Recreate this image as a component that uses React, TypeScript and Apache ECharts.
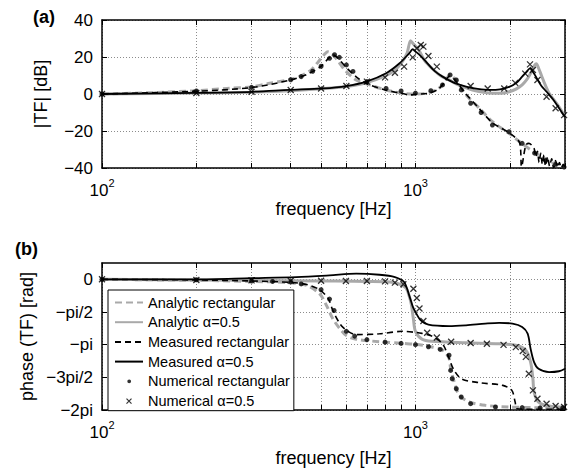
import React, { useEffect, useRef } from 'react';
import * as echarts from 'echarts';

const FONT = '"Liberation Sans", Arial, Helvetica, sans-serif';
const PI = Math.PI;

// ---- axes ----
const freqMax = 3000;
const freqGridHz = [100, 200, 300, 400, 500, 600, 700, 800, 900, 1000, 2000, 3000];
const freqLabelExp = [2, 3];
const magMin = -40;
const magMax = 40;
const magStep = 20;
const phaseTickValues = [-2 * PI, -1.5 * PI, -PI, -0.5 * PI, 0];
const phaseTickLabels = ['−2pi', '−3pi/2', '−pi', '−pi/2', '0'];

const names = [
  'Analytic rectangular',
  'Analytic α=0.5',
  'Measured rectangular',
  'Measured α=0.5',
  'Numerical rectangular',
  'Numerical α=0.5',
];

// ---- (a) magnitude [dB] ----
const magAnaRectF = [100,150,200,250,300,343,400,440,465,485,500,515,525,540,558,595,647,715,806,910,1000,1060,1128,1180,1220,1260,1290,1320,1365,1450,1600,1760,1990,2150,2370,2600,2800,3000];
const magAnaRectDb = [0,0.8,1.8,3.0,3.8,5.8,7.9,10.5,13,16.5,19.3,21.8,22.8,21.8,19.3,13,7.6,4.9,2.2,0.4,0,0.2,1.2,2.8,4.9,8.5,10.5,9,6.7,-0.5,-7.7,-15,-21.3,-25.8,-31,-35,-38,-40];

const magAnaAlphaF = [100,200,300,400,500,600,700,800,860,900,940,965,985,1025,1070,1128,1200,1280,1400,1520,1650,1760,1880,1990,2100,2190,2280,2330,2400,2430,2470,2520,2600,2670,2870,3000];
const magAnaAlphaDb = [0,0.5,1.0,1.8,2.8,4,6.2,9.8,13,16.5,22,28.8,27,23.8,18,13.9,10,7.6,4.2,2.2,0.9,0.4,0.4,1.2,2.8,4.9,8.5,11.2,15.5,16.3,14,10.3,4.5,0.4,-6.9,-12.3];

const magMeasRectF = [100,200,300,400,450,500,530,548,565,600,650,700,800,900,960,1000,1100,1180,1240,1280,1310,1360,1450,1600,1760,1990,2150,2180,2250,2300,2390,2420,2450,2480,2510,2540,2570,2600,2640,2680,2720,2760,2800,2840,2880,2920,2960,3000];
const magMeasRectDb = [0,1.5,3.5,7.6,10.5,15,19.5,21,19.5,14.5,9,5.5,2.2,0.4,-0.5,-0.2,0.4,2.5,6.5,9.5,9,6,0,-8,-15.5,-21,-26.5,-39.3,-27.6,-26.7,-29.4,-34,-31,-37,-32,-38,-33,-39,-34,-39,-35,-40,-36,-39.5,-37,-40,-38,-39.5];

const magMeasAlphaF = [100,200,300,396,507,602,697,806,890,955,980,1000,1040,1080,1150,1220,1330,1450,1580,1720,1860,2000,2100,2190,2260,2320,2360,2430,2520,2620,2750,2870,3000];
const magMeasAlphaDb = [0,0.6,1.2,2.2,3,4.3,6.7,11.2,16.6,22,24.2,23,20.5,17.5,12.5,9.4,6,4,2.8,2.2,2.5,4,6,9.4,12,13.8,12.5,9,4.5,1.2,-3,-7.6,-12.5];

const magNumRectF = [100,200,300,400,432,470,500,532,552,572,602,632,700,806,900,1000,1120,1220,1290,1350,1400,1500,1620,1760,1990,2190,2400,2600,2800,2980];
const magNumRectDb = [0,1.6,3.6,7.7,9.4,12.3,15,19.3,21.2,19.8,15.7,12.2,6.7,3,1.6,0.5,1.8,4.9,10.3,7.6,2.2,-5,-10,-16.8,-20.4,-26.7,-32,-36,-38,-39.5];

const magNumAlphaF = [100,200,300,400,500,602,700,800,860,920,980,1010,1040,1060,1100,1170,1500,1700,1920,2080,2240,2320,2370,2450,2620,2800,2980];
const magNumAlphaDb = [0,0.5,1.2,2.2,3,4.3,6.7,9,11.5,14.8,19.8,24.7,26.5,25.6,20.5,14.8,4.3,3,3,6,11,16,13,7.6,-1.5,-7.7,-11.4];

// ---- (b) phase [rad] ----
const phAnaRectF = [100,200,300,396,450,495,520,545,574,602,647,768,910,1000,1128,1220,1280,1295,1330,1380,1490,1670,1990,2400,3000];
const phAnaRectRad = [0,-0.05,-0.1,-0.16,-0.29,-0.7,-1.25,-1.9,-2.37,-2.7,-2.88,-3.0,-3.08,-3.12,-3.25,-3.4,-3.8,-4.3,-4.94,-5.58,-5.9,-6.06,-6.14,-6.17,-6.18];

const phAnaAlphaF = [100,300,500,700,850,930,955,970,985,1000,1050,1130,1450,1850,2090,2250,2330,2370,2390,2470,2670,3000];
const phAnaAlphaRad = [0,-0.05,-0.08,-0.1,-0.15,-0.4,-0.8,-1.2,-1.9,-2.5,-2.88,-2.98,-3.05,-3.1,-3.17,-3.41,-3.98,-4.78,-5.42,-5.9,-6.09,-6.14];

const phMeasRectF = [100,200,300,400,450,495,527,545,574,602,647,768,910,1000,1050,1128,1220,1280,1320,1400,1600,1900,2030,2080,2110,2400,3000];
const phMeasRectRad = [0,-0.03,-0.08,-0.15,-0.25,-0.5,-0.93,-1.5,-2.13,-2.45,-2.66,-2.62,-2.5,-2.55,-2.6,-2.73,-3.1,-3.8,-4.3,-4.78,-4.97,-5.1,-5.34,-5.9,-6.22,-6.25,-6.25];

const phMeasAlphaF = [100,200,300,417,532,647,768,860,920,955,980,1000,1040,1100,1280,1450,1670,1850,2040,2190,2280,2330,2390,2470,2670,2870,3000];
const phMeasAlphaRad = [0,0,0.06,0.11,0.19,0.27,0.22,0.11,-0.13,-0.77,-1.3,-1.57,-1.97,-2.18,-2.25,-2.21,-2.13,-2.09,-2.13,-2.29,-2.61,-3.34,-3.98,-4.3,-4.46,-4.42,-4.3];

const phNumRectF = [100,200,300,350,400,432,500,532,550,602,640,700,800,900,1000,1100,1200,1280,1295,1310,1350,1400,1500,1800,2190,2500,2950];
const phNumRectRad = [0,-0.02,-0.08,-0.1,-0.12,-0.22,-0.5,-0.95,-1.5,-2.5,-2.73,-2.9,-3.02,-3.08,-3.14,-3.24,-3.37,-3.65,-4.38,-4.78,-5.26,-5.66,-5.98,-6.14,-6.17,-6.18,-6.18];

const phNumAlphaF = [100,200,300,400,500,600,700,800,860,915,985,1010,1030,1060,1090,1170,1300,1500,1690,1910,2090,2200,2250,2300,2370,2450,2620,2800,2980];
const phNumAlphaRad = [0,-0.03,-0.05,-0.07,-0.07,-0.08,-0.08,-0.1,-0.16,-0.24,-0.45,-0.9,-1.4,-2.0,-2.57,-2.8,-3.0,-3.06,-3.1,-3.15,-3.26,-3.45,-3.73,-4.54,-5.34,-5.74,-5.98,-6.09,-6.14];

const zip = (f: number[], v: number[]) => f.map((x, i) => [Math.log10(x), v[i]]);

const GREY = '#a9a9a9';
const lineStyles: any[] = [
  { color: GREY, width: 3, type: [7, 4] },
  { color: GREY, width: 3, type: 'solid' },
  { color: '#000', width: 1.6, type: [6, 4] },
  { color: '#000', width: 1.8, type: 'solid' },
];
const X_SYMBOL = 'path://M0,0L10,10M10,0L0,10';

function seriesFor(k: number, sets: [number[], number[]][]) {
  const out: any[] = [];
  for (let i = 0; i < 4; i++) {
    out.push({
      type: 'line',
      name: names[i],
      xAxisIndex: k * 2,
      yAxisIndex: k * 2,
      data: zip(sets[i][0], sets[i][1]),
      showSymbol: false,
      symbol: 'none',
      smooth: 0.3,
      silent: true,
      itemStyle: { color: lineStyles[i].color },
      lineStyle: lineStyles[i],
      z: 2 + i,
    });
  }
  out.push({
    type: 'scatter',
    name: names[4],
    xAxisIndex: k * 2,
    yAxisIndex: k * 2,
    data: zip(sets[4][0], sets[4][1]),
    symbol: 'circle',
    symbolSize: 5,
    silent: true,
    itemStyle: { color: '#000' },
    z: 7,
  });
  out.push({
    type: 'scatter',
    name: names[5],
    xAxisIndex: k * 2,
    yAxisIndex: k * 2,
    data: zip(sets[5][0], sets[5][1]),
    symbol: X_SYMBOL,
    symbolSize: 6,
    silent: true,
    itemStyle: { color: '#000', borderColor: '#000', borderWidth: 1.3 },
    z: 8,
  });
  return out;
}

const axisLine = { show: true, onZero: false, lineStyle: { color: '#000', width: 1.5 } };
const gridLine = { show: true, lineStyle: { color: '#8c8c8c', width: 1, type: [1, 2] } };
const tick = (vals?: number[]) => ({
  show: true,
  inside: true,
  length: 5,
  lineStyle: { color: '#000', width: 1 },
  ...(vals ? { customValues: vals } : {}),
});

function xAxes(g: number, nameGap: number) {
  const logTicks = freqGridHz.map((f) => Math.log10(f));
  const base = { type: 'value', gridIndex: g, min: 2, max: Math.log10(freqMax), axisLine };
  return [
    {
      ...base,
      position: 'bottom',
      axisTick: tick(logTicks),
      splitLine: gridLine,
      axisLabel: {
        customValues: freqLabelExp,
        margin: 9,
        formatter: (v: number) => `{b|10}{s|${Math.round(v)}}`,
        rich: {
          b: { fontSize: 17, fontFamily: FONT, color: '#000', lineHeight: 20, padding: [6, 0, 0, 0] },
          s: { fontSize: 11, fontFamily: FONT, color: '#000', lineHeight: 12, verticalAlign: 'top' },
        },
      },
      name: 'frequency [Hz]',
      nameLocation: 'middle',
      nameGap,
      nameMoveOverlap: false,
      nameTextStyle: { fontSize: 18, color: '#000', fontFamily: FONT },
    },
    {
      ...base,
      position: 'top',
      axisTick: tick(logTicks),
      splitLine: { show: false },
      axisLabel: { show: false },
    },
  ];
}

function yAxes(g: number, cfg: any, name: string, nameGap: number, labelFmt: (v: number) => string, vals?: number[]) {
  return [
    {
      type: 'value',
      gridIndex: g,
      position: 'left',
      ...cfg,
      axisLine,
      axisTick: tick(vals),
      splitLine: gridLine,
      axisLabel: {
        ...(vals ? { customValues: vals } : {}),
        fontSize: 17,
        fontFamily: FONT,
        color: '#000',
        margin: 9,
        formatter: labelFmt,
      },
      name,
      nameLocation: 'middle',
      nameGap,
      nameMoveOverlap: false,
      nameTextStyle: { fontSize: 18, color: '#000', fontFamily: FONT },
    },
    {
      type: 'value',
      gridIndex: g,
      position: 'right',
      ...cfg,
      axisLine,
      axisTick: tick(vals),
      splitLine: { show: false },
      axisLabel: { show: false },
    },
  ];
}

const magFmt = (v: number) => (v < 0 ? '−' + Math.abs(v) : String(v));
const phaseFmt = (v: number) => {
  for (let i = 0; i < phaseTickValues.length; i++) {
    if (Math.abs(v - phaseTickValues[i]) < 1e-6) return phaseTickLabels[i];
  }
  return '';
};

const hiddenSymbol = { color: 'rgba(0,0,0,0)', borderWidth: 0, opacity: 0 };

export default function App() {
  const ref = useRef<HTMLDivElement>(null);
  useEffect(() => {
    if (!ref.current) return;
    const chart = echarts.init(ref.current, undefined, { renderer: 'svg' });
    const option: any = {
      animation: false,
      backgroundColor: '#fff',
      textStyle: { fontFamily: FONT },
      grid: [
        { left: 102, top: 20, width: 463, height: 148, containLabel: false, outerBoundsMode: 'none' },
        { left: 102, top: 263, width: 463, height: 147, containLabel: false, outerBoundsMode: 'none' },
      ],
      xAxis: [...xAxes(0, 32), ...xAxes(1, 39)],
      yAxis: [
        ...yAxes(0, { min: magMin, max: magMax, interval: magStep }, '|TF| [dB]', 52, magFmt),
        ...yAxes(1, { min: -2 * PI, max: PI / 4, interval: PI / 2 }, 'phase (TF) [rad]', 66, phaseFmt, phaseTickValues),
      ],
      legend: {
        orient: 'vertical',
        left: 108,
        top: 290,
        itemWidth: 28,
        itemHeight: 14,
        itemGap: 4.7,
        padding: [5, 4, 2, 6],
        backgroundColor: '#fff',
        borderColor: '#000',
        borderWidth: 1,
        selectedMode: false,
        textStyle: { fontSize: 14.5, color: '#000', fontFamily: FONT },
        data: [
          { name: names[0], itemStyle: hiddenSymbol },
          { name: names[1], itemStyle: hiddenSymbol },
          { name: names[2], itemStyle: hiddenSymbol },
          { name: names[3], itemStyle: hiddenSymbol },
          { name: names[4], icon: 'path://M0,0M28,14M12.3,7A1.9,1.9,0,1,1,16.1,7A1.9,1.9,0,1,1,12.3,7Z' },
          { name: names[5], icon: 'path://M0,0M28,14M11.5,4.5L16.5,9.5M16.5,4.5L11.5,9.5', itemStyle: { borderWidth: 1.2 } },
        ],
      },
      graphic: [
        { type: 'text', left: 33, top: 8, style: { text: '(a)', font: `bold 18px ${FONT}`, fill: '#000' } },
        { type: 'text', left: 15, top: 240, style: { text: '(b)', font: `bold 18px ${FONT}`, fill: '#000' } },
      ],
      series: [
        ...seriesFor(0, [
          [magAnaRectF, magAnaRectDb],
          [magAnaAlphaF, magAnaAlphaDb],
          [magMeasRectF, magMeasRectDb],
          [magMeasAlphaF, magMeasAlphaDb],
          [magNumRectF, magNumRectDb],
          [magNumAlphaF, magNumAlphaDb],
        ]),
        ...seriesFor(1, [
          [phAnaRectF, phAnaRectRad],
          [phAnaAlphaF, phAnaAlphaRad],
          [phMeasRectF, phMeasRectRad],
          [phMeasAlphaF, phMeasAlphaRad],
          [phNumRectF, phNumRectRad],
          [phNumAlphaF, phNumAlphaRad],
        ]),
      ],
    };
    chart.setOption(option);
    return () => chart.dispose();
  }, []);
  return <div ref={ref} style={{ position: 'absolute', left: 0, top: 0, width: 573, height: 474 }} />;
}
